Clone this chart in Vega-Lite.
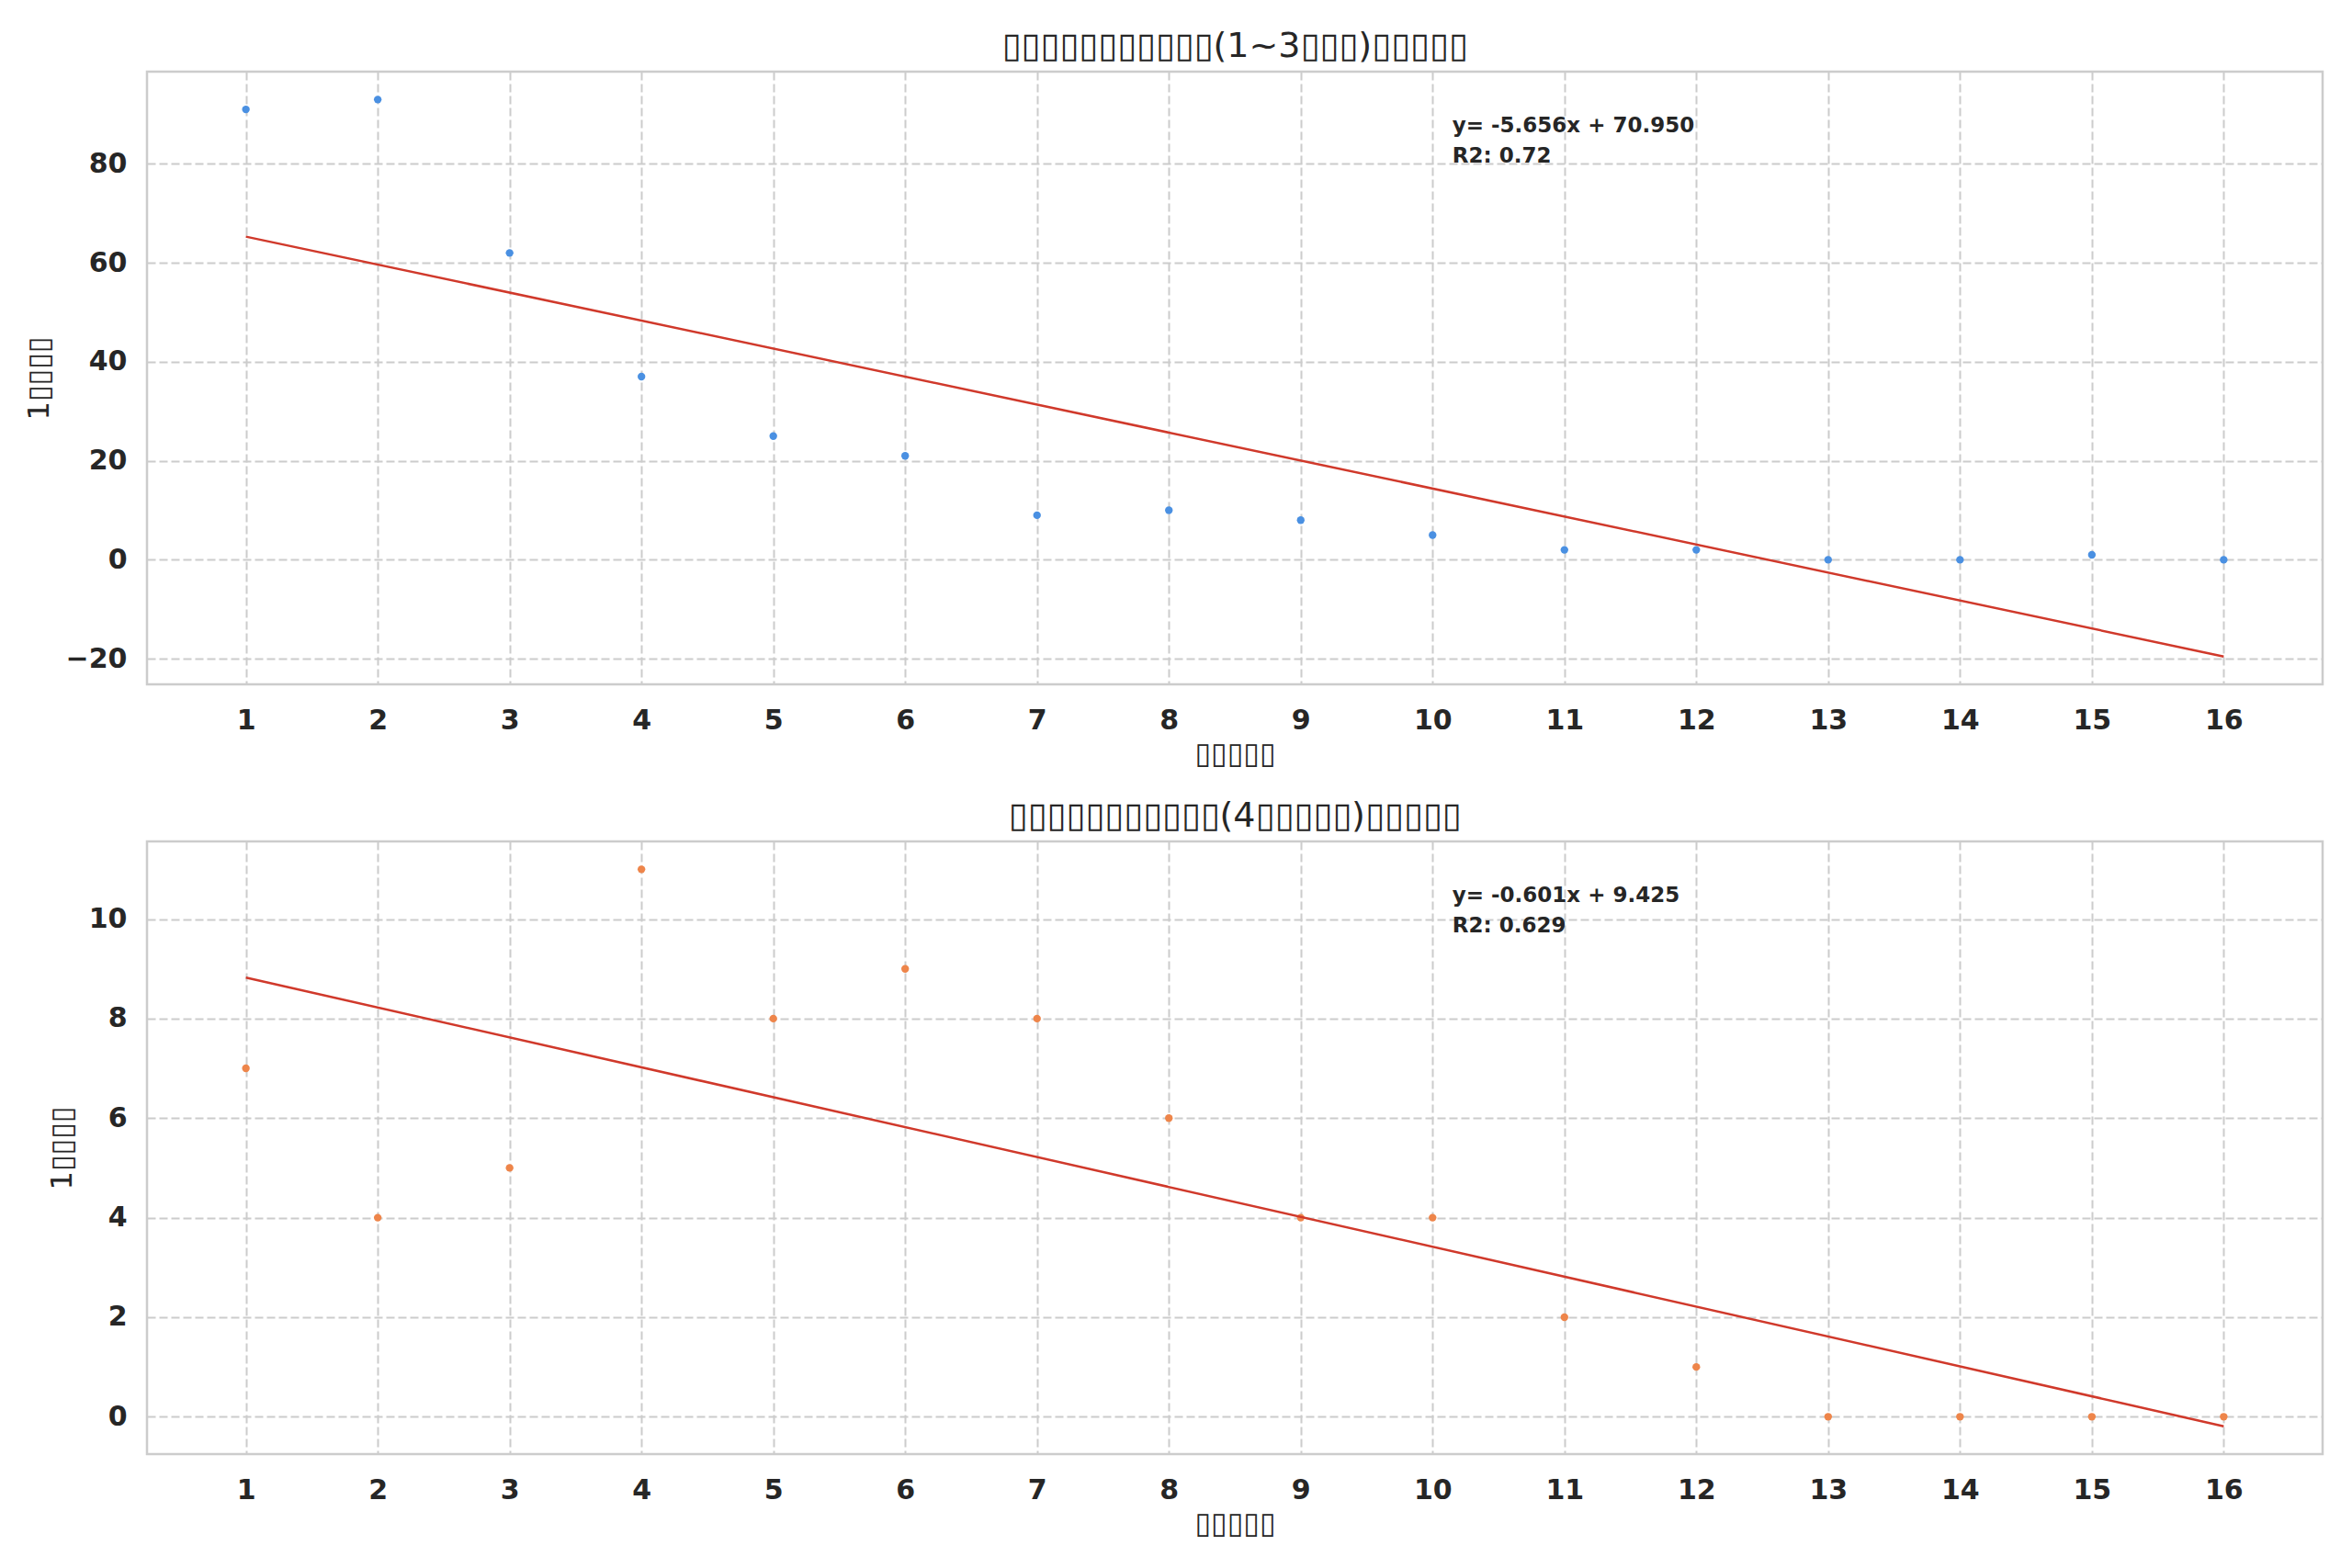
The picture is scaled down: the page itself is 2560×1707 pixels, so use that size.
{
  "$schema": "https://vega.github.io/schema/vega-lite/v6.json",
  "padding": {"left": 24, "top": 30, "right": 0, "bottom": 0},
  "background": "white",
  "bounds": "flush",
  "spacing": 171,
  "datasets": {
    "short": [
      {"x": 1, "count": 91}, {"x": 2, "count": 93}, {"x": 3, "count": 62}, {"x": 4, "count": 37},
      {"x": 5, "count": 25}, {"x": 6, "count": 21}, {"x": 7, "count": 9}, {"x": 8, "count": 10},
      {"x": 9, "count": 8}, {"x": 10, "count": 5}, {"x": 11, "count": 2}, {"x": 12, "count": 2},
      {"x": 13, "count": 0}, {"x": 14, "count": 0}, {"x": 15, "count": 1}, {"x": 16, "count": 0}
    ],
    "shortFit": [{"x": 1, "fit": 65.294}, {"x": 16, "fit": -19.546}],
    "long": [
      {"x": 1, "count": 7}, {"x": 2, "count": 4}, {"x": 3, "count": 5}, {"x": 4, "count": 11},
      {"x": 5, "count": 8}, {"x": 6, "count": 9}, {"x": 7, "count": 8}, {"x": 8, "count": 6},
      {"x": 9, "count": 4}, {"x": 10, "count": 4}, {"x": 11, "count": 2}, {"x": 12, "count": 1},
      {"x": 13, "count": 0}, {"x": 14, "count": 0}, {"x": 15, "count": 0}, {"x": 16, "count": 0}
    ],
    "longFit": [{"x": 1, "fit": 8.824}, {"x": 16, "fit": -0.191}]
  },
  "vconcat": [
    {
      "width": 2368,
      "height": 667,
      "title": {"text": "▯▯▯▯▯▯▯▯▯▯▯(1~3▯▯▯)▯▯▯▯▯"},
      "layer": [
        {
          "data": {"name": "short"},
          "mark": {"type": "circle", "size": 70, "opacity": 1, "color": "#4a90e2"},
          "encoding": {
            "x": {"field": "x", "type": "quantitative", "title": "▯▯▯▯▯",
              "scale": {"domain": [0.25, 16.75], "nice": false, "zero": false},
              "axis": {"values": [1, 2, 3, 4, 5, 6, 7, 8, 9, 10, 11, 12, 13, 14, 15, 16], "format": "d"}},
            "y": {"field": "count", "type": "quantitative", "title": "1▯▯▯▯",
              "scale": {"domain": [-25.17, 98.63], "nice": false, "zero": false},
              "axis": {"values": [-20, 0, 20, 40, 60, 80], "format": "d"}}
          }
        },
        {
          "data": {"name": "shortFit"},
          "mark": {"type": "line", "color": "#d0392b", "strokeWidth": 2.5},
          "encoding": {
            "x": {"field": "x", "type": "quantitative"},
            "y": {"field": "fit", "type": "quantitative"}
          }
        },
        {
          "data": {"values": [{"label": ["y= -5.656x + 70.950", "R2: 0.72"]}]},
          "mark": {"type": "text", "align": "left", "baseline": "alphabetic", "fontSize": 23, "fontWeight": "bold", "lineHeight": 33, "color": "#262626"},
          "encoding": {
            "x": {"datum": 10.15, "type": "quantitative"},
            "y": {"datum": 86.3, "type": "quantitative"},
            "text": {"field": "label"}
          }
        }
      ]
    },
    {
      "width": 2368,
      "height": 667,
      "title": {"text": "▯▯▯▯▯▯▯▯▯▯▯(4▯▯▯▯▯)▯▯▯▯▯"},
      "layer": [
        {
          "data": {"name": "long"},
          "mark": {"type": "circle", "size": 70, "opacity": 1, "color": "#ee854a"},
          "encoding": {
            "x": {"field": "x", "type": "quantitative", "title": "▯▯▯▯▯",
              "scale": {"domain": [0.25, 16.75], "nice": false, "zero": false},
              "axis": {"values": [1, 2, 3, 4, 5, 6, 7, 8, 9, 10, 11, 12, 13, 14, 15, 16], "format": "d"}},
            "y": {"field": "count", "type": "quantitative", "title": "1▯▯▯▯",
              "scale": {"domain": [-0.751, 11.56], "nice": false, "zero": false},
              "axis": {"values": [0, 2, 4, 6, 8, 10], "format": "d"}}
          }
        },
        {
          "data": {"name": "longFit"},
          "mark": {"type": "line", "color": "#d0392b", "strokeWidth": 2.5},
          "encoding": {
            "x": {"field": "x", "type": "quantitative"},
            "y": {"field": "fit", "type": "quantitative"}
          }
        },
        {
          "data": {"values": [{"label": ["y= -0.601x + 9.425", "R2: 0.629"]}]},
          "mark": {"type": "text", "align": "left", "baseline": "alphabetic", "fontSize": 23, "fontWeight": "bold", "lineHeight": 33, "color": "#262626"},
          "encoding": {
            "x": {"datum": 10.15, "type": "quantitative"},
            "y": {"datum": 10.337, "type": "quantitative"},
            "text": {"field": "label"}
          }
        }
      ]
    }
  ],
  "config": {
    "font": "DejaVu Sans",
    "view": {"stroke": "#cccccc", "strokeWidth": 2.5},
    "title": {"font": "DejaVu Sans", "fontSize": 38, "fontWeight": "normal", "color": "#262626", "anchor": "middle", "baseline": "alphabetic", "offset": 8},
    "axis": {
      "grid": true, "gridColor": "#cccccc", "gridDash": [9, 4], "gridWidth": 2,
      "domain": false, "ticks": false,
      "labelFont": "DejaVu Sans", "labelFontWeight": "bold", "labelFontSize": 30, "labelColor": "#262626",
      "titleFont": "DejaVu Sans", "titleFontWeight": "normal", "titleFontSize": 32, "titleColor": "#262626"
    },
    "axisX": {"labelPadding": 24, "titlePadding": 6},
    "axisY": {"labelPadding": 22, "titlePadding": 12}
  }
}
